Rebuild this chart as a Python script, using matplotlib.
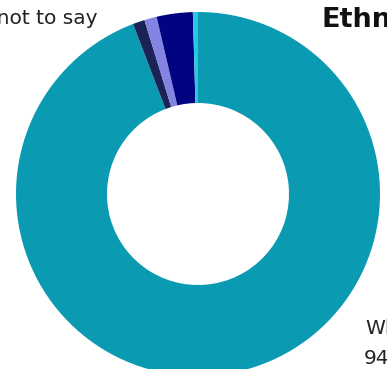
import matplotlib
matplotlib.use("Agg")
import matplotlib.pyplot as plt

categories = ["White", "Mixed", "Asian", "Black", "Prefer not to say"]
values = [94.1, 1.05, 1.1, 3.2, 0.45]
colors = ["#0a9ab2", "#1b2256", "#8383e4", "#020381", "#2ac6e4"]

title = "Ethnicity"
white_label = "White"
white_pct = "94.1%"
pnts_label = "Prefer not to say"

plt.rcParams['font.family'] = ['DejaVu Sans']

W, H = 387, 369
fig = plt.figure(figsize=(W / 100, H / 100), dpi=100)
ax = fig.add_axes([0, 0, 1, 1])
ax.pie(values, colors=colors, startangle=90, counterclock=False,
       radius=1.0, wedgeprops=dict(width=0.5, edgecolor='none'))
cx, cy, R = 198, 194, 182
ax.set_xlim(-cx / R, (W - cx) / R)
ax.set_ylim(-(H - cy) / R, cy / R)
ax.set_aspect('equal')
ax.axis('off')

def px(x, y):
    return x / W, 1 - y / H

fig.text(*px(98, 19), pnts_label, ha='right', va='center', fontsize=14.5, color='#222222')
fig.text(*px(322, 20), title, ha='left', va='center', fontsize=19.5, fontweight='bold', color='#111111')
fig.text(*px(365, 329), white_label, ha='left', va='center', fontsize=14.5, color='#222222')
fig.text(*px(364, 358), white_pct, ha='left', va='center', fontsize=14.5, color='#222222')

fig.savefig("out.png", dpi=100)
